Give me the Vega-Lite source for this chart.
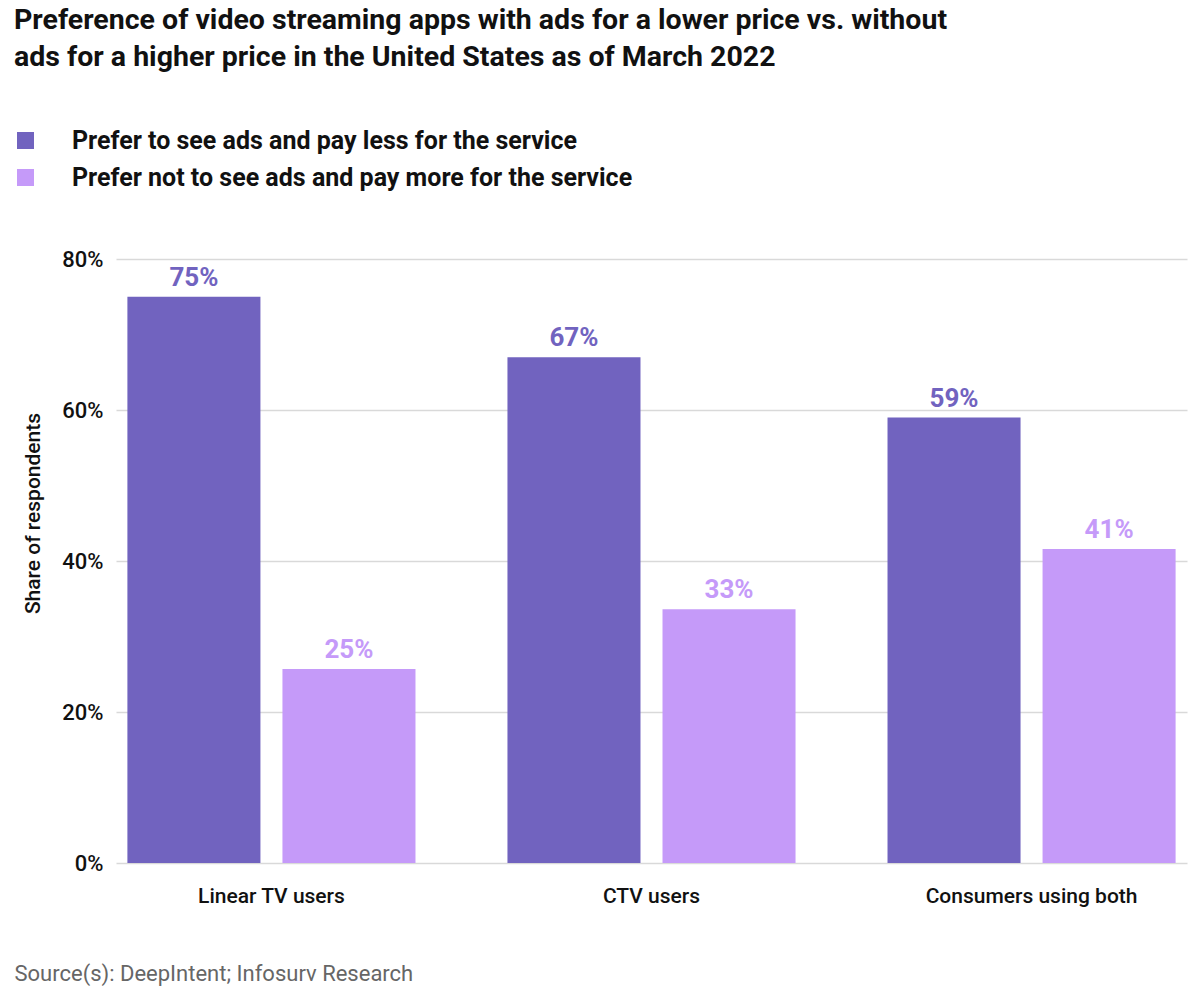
{
  "$schema": "https://vega.github.io/schema/vega-lite/v6.json",
  "width": 1071,
  "height": 604,
  "autosize": {"type": "none"},
  "padding": {"left": 116, "top": 259, "right": 13, "bottom": 137},
  "background": "white",
  "config": {
    "font": "Roboto",
    "view": {"stroke": null},
    "axis": {"labelColor": "#111111", "titleColor": "#111111"}
  },
  "title": {
    "text": ["Preference of video streaming apps with ads for a lower price vs. without", "ads for a higher price in the United States as of March 2022"],
    "anchor": "start",
    "frame": "group",
    "dx": -102,
    "offset": 57,
    "fontSize": 28.5,
    "fontWeight": "bold",
    "lineHeight": 37,
    "color": "#111111"
  },
  "data": {
    "values": [
      {"group": "Linear TV users", "series": "Prefer to see ads and pay less for the service", "value": 75, "label": "75%"},
      {"group": "Linear TV users", "series": "Prefer not to see ads and pay more for the service", "value": 25.7, "label": "25%"},
      {"group": "CTV users", "series": "Prefer to see ads and pay less for the service", "value": 67, "label": "67%"},
      {"group": "CTV users", "series": "Prefer not to see ads and pay more for the service", "value": 33.6, "label": "33%"},
      {"group": "Consumers using both", "series": "Prefer to see ads and pay less for the service", "value": 59, "label": "59%"},
      {"group": "Consumers using both", "series": "Prefer not to see ads and pay more for the service", "value": 41.6, "label": "41%"}
    ]
  },
  "encoding": {
    "x": {
      "field": "group",
      "type": "nominal",
      "sort": ["Linear TV users", "CTV users", "Consumers using both"],
      "scale": {"paddingInner": 0.242, "paddingOuter": 0.03},
      "axis": {
        "title": "Source(s): DeepIntent; Infosurv Research",
        "titleAnchor": "start",
        "titleAlign": "left",
        "titleX": -102,
        "titleY": 100,
        "titleFontSize": 22,
        "titleFontWeight": "normal",
        "titleColor": "#666666",
        "labelAngle": 0,
        "labelFontSize": 21,
        "labelFontWeight": 500,
        "labelPadding": 22,
        "labelLimit": 400,
        "ticks": false,
        "domain": false,
        "grid": false
      }
    },
    "xOffset": {
      "field": "series",
      "sort": ["Prefer to see ads and pay less for the service", "Prefer not to see ads and pay more for the service"],
      "scale": {"paddingInner": 0.142, "paddingOuter": 0}
    },
    "y": {
      "field": "value",
      "type": "quantitative",
      "scale": {"domain": [0, 80]},
      "axis": {
        "title": "Share of respondents",
        "titleFontSize": 21,
        "titleFontWeight": 500,
        "titleAngle": -90,
        "titleX": -83,
        "titleY": 254,
        "titleAlign": "center",
        "titleBaseline": "middle",
        "values": [0, 20, 40, 60, 80],
        "labelExpr": "datum.value + '%'",
        "labelFontSize": 22,
        "labelFontWeight": 500,
        "labelPadding": 13,
        "ticks": false,
        "domain": false,
        "gridColor": "#d9d9d9",
        "gridWidth": 1.5
      }
    },
    "color": {
      "field": "series",
      "type": "nominal",
      "sort": ["Prefer to see ads and pay less for the service", "Prefer not to see ads and pay more for the service"],
      "scale": {
        "domain": ["Prefer to see ads and pay less for the service", "Prefer not to see ads and pay more for the service"],
        "range": ["#7163BF", "#C59AF9"]
      },
      "legend": {
        "orient": "none",
        "legendX": -103,
        "legendY": -131,
        "title": null,
        "symbolType": "square",
        "symbolSize": 289,
        "symbolOpacity": 1,
        "symbolStrokeWidth": 0,
        "labelFontSize": 25,
        "labelFontWeight": "bold",
        "labelColor": "#111111",
        "labelOffset": 34,
        "rowPadding": 11,
        "padding": 0,
        "labelLimit": 800
      }
    }
  },
  "layer": [
    {"mark": {"type": "bar"}},
    {
      "mark": {"type": "text", "baseline": "bottom", "dy": -6, "fontSize": 26, "fontWeight": "bold"},
      "encoding": {"text": {"field": "label"}}
    }
  ]
}
